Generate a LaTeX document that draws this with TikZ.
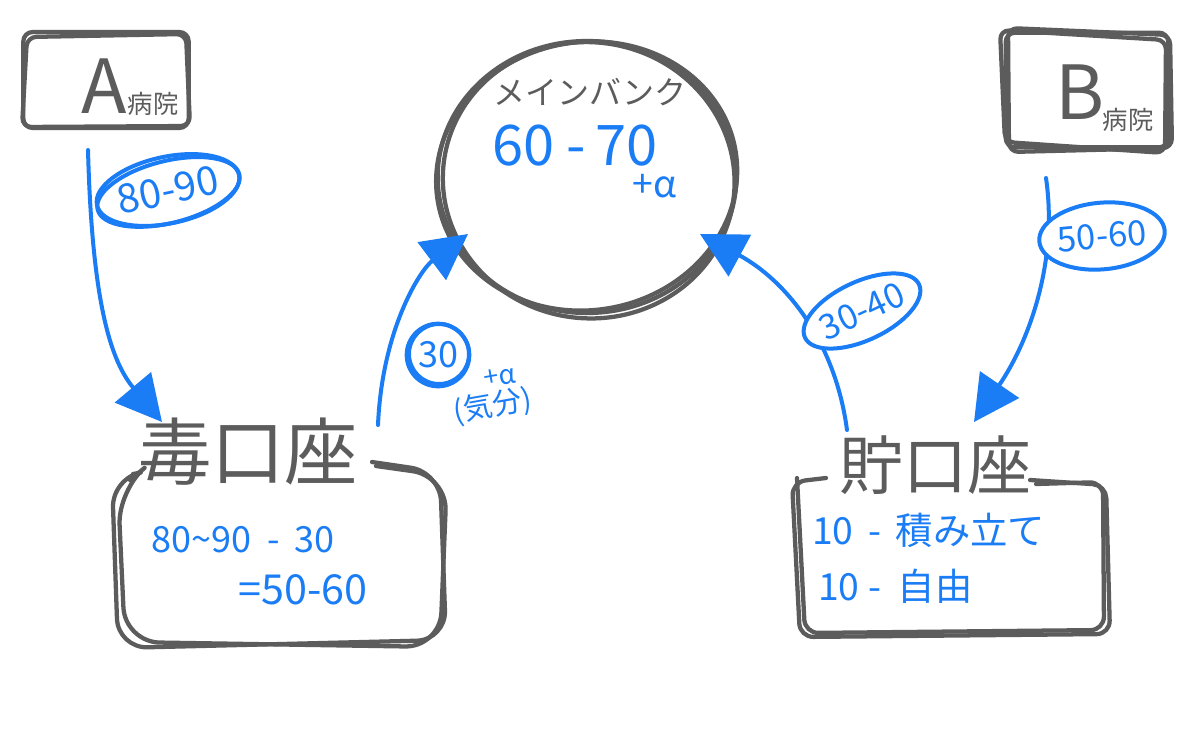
\documentclass[tikz,border=0pt]{standalone}
\usepackage{fontspec}
\setmainfont{Noto Sans CJK JP}
\usetikzlibrary{arrows.meta,shapes.geometric}
\definecolor{pen}{HTML}{5C5C5C}
\definecolor{ink}{HTML}{1A7DF5}
\newcommand\setfs[1]{\fontsize{#1}{#1}\selectfont}
\begin{document}
\begin{tikzpicture}[x=0.75pt,y=-0.75pt,
  sk/.style={draw=pen,line width=3.2pt,rounded corners=7pt,line join=round,line cap=round},
  skc/.style={draw=pen,line width=3.2pt},
  bl/.style={draw=ink,line width=3pt,line cap=round},
  arr/.style={bl,-{Triangle[length=34pt,width=35pt]}},
  gt/.style={text=pen,inner sep=0pt},
  bt/.style={text=ink,inner sep=0pt},
  oval/.style={draw=ink,line width=3pt,ellipse,inner sep=0pt}]
\useasboundingbox[fill=white] (0,0) rectangle (1200,729);

% ---- A hospital box
\node[sk,minimum width=124pt,minimum height=72pt] (A) at (106,80) {};
\draw[sk] (27,37) -- (186,34) -- (190,126) -- (22,127) -- cycle;
\node[gt] (Aa) at (104,86) {\setfs{56}A};
\node[gt] (Ab) at (153,104) {\setfs{19}病院};

% ---- B hospital box
\node[sk,minimum width=122pt,minimum height=86pt] (B) at (1087,90) {};
\draw[sk] (1000,30) -- (1166,40) -- (1165,153) -- (1005,142) -- cycle;
\draw[sk] (1008,28) -- (1170,35) -- (1172,148) -- (1009,152) -- cycle;
\node[gt] (Ba) at (1080,92) {\setfs{56}B};
\node[gt] (Bb) at (1128,120) {\setfs{19}病院};

% ---- main bank circle
\node[draw=pen,line width=3.2pt,ellipse,minimum width=224pt,minimum height=204pt] (bank) at (587,177) {};
\draw[skc,rotate around={10:(587,178)}] (587,176) ellipse [x radius=151,y radius=134];
\draw[skc,rotate around={-8:(587,178)}] (589,180) ellipse [x radius=146,y radius=138];
\node[gt] (bankname) at (590,92) {\setfs{24}メインバンク};
\node[bt] (banknum) at (575,146) {\setfs{42}60 -\,70};
\node[bt] (bankplus) at (655,186) {\setfs{28}+α};

% ---- left account
\node[gt] (doku) at (248,452) {\setfs{55}毒口座};
\draw[sk,rounded corners=22pt] (372,462) -- (440,472) -- (446,640) -- (118,648) -- (112,478) -- (133,474);
\draw[sk,rounded corners=26pt] (376,466) -- (447,476) -- (440,647) -- (125,642) -- (118,490) -- (130,480);
\node[bt] (dokua) at (243,540) {\setfs{27}80\textasciitilde90 \ - \,30};
\node[bt] (dokub) at (303,590) {\setfs{31}=50-60};

% ---- right account
\node[gt] (choki) at (935,465) {\setfs{48}貯口座};
\draw[sk,rounded corners=10pt] (1030,480) -- (1106,485) -- (1110,634) -- (800,637) -- (792,482) -- (826,478);
\draw[sk,rounded corners=10pt] (1036,484) -- (1103,482) -- (1104,630) -- (805,633) -- (797,478);
\node[bt,anchor=west] (chokia) at (812,530) {\setfs{28}10 \,-\, 積み立て};
\node[bt,anchor=west] (chokib) at (818,586) {\setfs{28}10 - \ 自由};

% ---- connectors
\coordinate (a1s) at (88,150);  \coordinate (a1e) at (162,422);
\coordinate (a2s) at (378,425); \coordinate (a2e) at (468,234);
\coordinate (a3s) at (847,430); \coordinate (a3e) at (700,234);
\coordinate (a4s) at (1046,178); \coordinate (a4e) at (974,422);
\draw[arr] (a1s) .. controls (92,300) and (110,360) .. (a1e);
\draw[arr] (a2s) .. controls (382,330) and (420,270) .. (a2e);
\draw[arr] (a3s) .. controls (835,340) and (785,280) .. (a3e);
\draw[arr] (a4s) .. controls (1058,260) and (1030,340) .. (a4e);

% ---- connector labels
\fill[white,rotate around={12:(168,190)}] (168,190) ellipse [x radius=72,y radius=33];
\draw[bl,rotate around={14:(168,190)}] (168,192) ellipse [x radius=73,y radius=31];
\node[oval,minimum width=105pt,minimum height=50pt,rotate=12,bt] (l1) at (168,190) {\setfs{30}80-90};
\node[oval,fill=white,minimum width=84pt,minimum height=50pt,rotate=5,bt] (l4) at (1102,236) {\setfs{26}50-60};
\node[oval,fill=white,minimum width=90pt,minimum height=44pt,rotate=25,bt] (l3) at (862,311) {\setfs{26}30-40};
\fill[white] (439,354) circle [radius=30];
\draw[bl] (439,354) circle [radius=30];
\node[bl,draw,circle,minimum size=47pt,inner sep=0pt,text=ink] (l2) at (438,355) {\setfs{27}30};
\node[bt,rotate=10] (l2a) at (500,377) {\setfs{20}+α};
\node[bt,rotate=10] (l2b) at (493,406) {\setfs{22}(気分)};
\end{tikzpicture}
\end{document}
